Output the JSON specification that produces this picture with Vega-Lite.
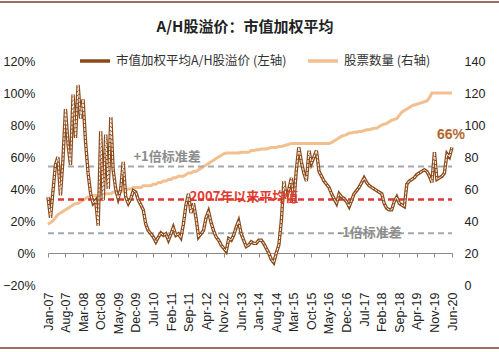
{
"$schema":"https://vega.github.io/schema/vega-lite/v6.json",
"width":404,"height":224,
"autosize":{"type":"none"},
"padding":{"left":48,"top":61,"right":47,"bottom":67},
"config":{"font":"Liberation Sans","view":{"stroke":null},"axis":{"labelFont":"Liberation Sans","labelColor":"#222","labelFontSize":12.5,"labelOverlap":false}},
"title":{"text":"A/H股溢价：市值加权平均","font":"Noto Sans CJK SC","fontSize":15,"fontWeight":"bold","color":"#222","frame":"group","anchor":"middle","dx":-5,"offset":-34},
"datasets":{
"main":[
{"d":"2007/01/01","p":0.35,"n":38},{"d":"2007/02/01","p":0.22,"n":39},{"d":"2007/03/01","p":0.38,"n":40},{"d":"2007/04/01","p":0.55,"n":42},{"d":"2007/05/01","p":0.60,"n":44},{"d":"2007/06/01","p":0.36,"n":45},{"d":"2007/07/01","p":0.58,"n":46},{"d":"2007/08/01","p":0.90,"n":47},{"d":"2007/09/01","p":0.68,"n":48},{"d":"2007/10/01","p":0.55,"n":49},{"d":"2007/11/01","p":0.99,"n":50},{"d":"2007/12/01","p":0.72,"n":51},
{"d":"2008/01/01","p":1.05,"n":51},{"d":"2008/02/01","p":0.84,"n":52},{"d":"2008/03/01","p":0.96,"n":53},{"d":"2008/04/01","p":0.69,"n":54},{"d":"2008/05/01","p":0.50,"n":55},{"d":"2008/06/01","p":0.37,"n":55},{"d":"2008/07/01","p":0.31,"n":56},{"d":"2008/08/01","p":0.33,"n":56},{"d":"2008/09/01","p":0.17,"n":56},{"d":"2008/10/01","p":0.76,"n":57},{"d":"2008/11/01","p":0.33,"n":57},{"d":"2008/12/01","p":0.74,"n":57},
{"d":"2009/01/01","p":0.40,"n":57},{"d":"2009/02/01","p":0.85,"n":57},{"d":"2009/03/01","p":0.52,"n":58},{"d":"2009/04/01","p":0.40,"n":58},{"d":"2009/05/01","p":0.34,"n":58},{"d":"2009/06/01","p":0.40,"n":58},{"d":"2009/07/01","p":0.57,"n":59},{"d":"2009/08/01","p":0.35,"n":59},{"d":"2009/09/01","p":0.31,"n":60},{"d":"2009/10/01","p":0.34,"n":60},{"d":"2009/11/01","p":0.39,"n":61},{"d":"2009/12/01","p":0.38,"n":61},
{"d":"2010/01/01","p":0.33,"n":61},{"d":"2010/02/01","p":0.30,"n":61},{"d":"2010/03/01","p":0.27,"n":62},{"d":"2010/04/01","p":0.18,"n":62},{"d":"2010/05/01","p":0.14,"n":62},{"d":"2010/06/01","p":0.12,"n":62},{"d":"2010/07/01","p":0.10,"n":63},{"d":"2010/08/01","p":0.07,"n":63},{"d":"2010/09/01","p":0.10,"n":64},{"d":"2010/10/01","p":0.125,"n":64},{"d":"2010/11/01","p":0.11,"n":65},{"d":"2010/12/01","p":0.12,"n":65},
{"d":"2011/01/01","p":0.08,"n":66},{"d":"2011/02/01","p":0.12,"n":66},{"d":"2011/03/01","p":0.16,"n":67},{"d":"2011/04/01","p":0.11,"n":67},{"d":"2011/05/01","p":0.12,"n":68},{"d":"2011/06/01","p":0.095,"n":68},{"d":"2011/07/01","p":0.18,"n":68},{"d":"2011/08/01","p":0.30,"n":69},{"d":"2011/09/01","p":0.37,"n":70},{"d":"2011/10/01","p":0.25,"n":70},{"d":"2011/11/01","p":0.31,"n":71},{"d":"2011/12/01","p":0.22,"n":71},
{"d":"2012/01/01","p":0.10,"n":72},{"d":"2012/02/01","p":0.12,"n":73},{"d":"2012/03/01","p":0.14,"n":74},{"d":"2012/04/01","p":0.22,"n":75},{"d":"2012/05/01","p":0.26,"n":76},{"d":"2012/06/01","p":0.19,"n":77},{"d":"2012/07/01","p":0.14,"n":78},{"d":"2012/08/01","p":0.10,"n":79},{"d":"2012/09/01","p":0.08,"n":80},{"d":"2012/10/01","p":0.05,"n":81},{"d":"2012/11/01","p":0.03,"n":82},{"d":"2012/12/01","p":0.01,"n":82.5},
{"d":"2013/01/01","p":0.09,"n":82.5},{"d":"2013/02/01","p":0.08,"n":82.5},{"d":"2013/03/01","p":0.11,"n":82.5},{"d":"2013/04/01","p":0.16,"n":82.5},{"d":"2013/05/01","p":0.20,"n":82.5},{"d":"2013/06/01","p":0.12,"n":83},{"d":"2013/07/01","p":0.08,"n":83},{"d":"2013/08/01","p":0.04,"n":83},{"d":"2013/09/01","p":0.05,"n":83},{"d":"2013/10/01","p":0.07,"n":84},{"d":"2013/11/01","p":0.06,"n":84},{"d":"2013/12/01","p":0.06,"n":84.5},
{"d":"2014/01/01","p":0.08,"n":84.5},{"d":"2014/02/01","p":0.08,"n":85},{"d":"2014/03/01","p":0.06,"n":85},{"d":"2014/04/01","p":0.03,"n":85},{"d":"2014/05/01","p":0.00,"n":85.5},{"d":"2014/06/01","p":-0.04,"n":86},{"d":"2014/07/01","p":-0.06,"n":86},{"d":"2014/08/01","p":0.00,"n":86},{"d":"2014/09/01","p":0.05,"n":86.5},{"d":"2014/10/01","p":0.20,"n":86.5},{"d":"2014/11/01","p":0.45,"n":87},{"d":"2014/12/01","p":0.34,"n":87.5},
{"d":"2015/01/01","p":0.40,"n":88},{"d":"2015/02/01","p":0.47,"n":88.5},{"d":"2015/03/01","p":0.31,"n":88.5},{"d":"2015/04/01","p":0.52,"n":88.5},{"d":"2015/05/01","p":0.66,"n":88.5},{"d":"2015/06/01","p":0.57,"n":88.5},{"d":"2015/07/01","p":0.50,"n":88.5},{"d":"2015/08/01","p":0.45,"n":88.5},{"d":"2015/09/01","p":0.64,"n":88.5},{"d":"2015/10/01","p":0.56,"n":88.5},{"d":"2015/11/01","p":0.60,"n":88.5},{"d":"2015/12/01","p":0.64,"n":88.5},
{"d":"2016/01/01","p":0.51,"n":88.5},{"d":"2016/02/01","p":0.48,"n":88.5},{"d":"2016/03/01","p":0.45,"n":88.5},{"d":"2016/04/01","p":0.43,"n":88.5},{"d":"2016/05/01","p":0.41,"n":88.5},{"d":"2016/06/01","p":0.37,"n":89},{"d":"2016/07/01","p":0.34,"n":90},{"d":"2016/08/01","p":0.31,"n":91},{"d":"2016/09/01","p":0.37,"n":92},{"d":"2016/10/01","p":0.35,"n":93},{"d":"2016/11/01","p":0.34,"n":93.5},{"d":"2016/12/01","p":0.32,"n":94},
{"d":"2017/01/01","p":0.29,"n":95},{"d":"2017/02/01","p":0.33,"n":95},{"d":"2017/03/01","p":0.37,"n":95.5},{"d":"2017/04/01","p":0.39,"n":95.5},{"d":"2017/05/01","p":0.41,"n":96},{"d":"2017/06/01","p":0.44,"n":96},{"d":"2017/07/01","p":0.47,"n":96.5},{"d":"2017/08/01","p":0.44,"n":97},{"d":"2017/09/01","p":0.42,"n":97},{"d":"2017/10/01","p":0.41,"n":97.5},{"d":"2017/11/01","p":0.40,"n":98},{"d":"2017/12/01","p":0.39,"n":98},
{"d":"2018/01/01","p":0.38,"n":99},{"d":"2018/02/01","p":0.37,"n":100},{"d":"2018/03/01","p":0.31,"n":100.5},{"d":"2018/04/01","p":0.28,"n":101},{"d":"2018/05/01","p":0.27,"n":102},{"d":"2018/06/01","p":0.27,"n":103},{"d":"2018/07/01","p":0.32,"n":103.5},{"d":"2018/08/01","p":0.35,"n":104},{"d":"2018/09/01","p":0.31,"n":106},{"d":"2018/10/01","p":0.30,"n":108},{"d":"2018/11/01","p":0.29,"n":109},{"d":"2018/12/01","p":0.43,"n":110},
{"d":"2019/01/01","p":0.45,"n":111},{"d":"2019/02/01","p":0.46,"n":112},{"d":"2019/03/01","p":0.47,"n":112.5},{"d":"2019/04/01","p":0.49,"n":113},{"d":"2019/05/01","p":0.50,"n":113.5},{"d":"2019/06/01","p":0.51,"n":114},{"d":"2019/07/01","p":0.52,"n":114.5},{"d":"2019/08/01","p":0.51,"n":115},{"d":"2019/09/01","p":0.48,"n":117},{"d":"2019/10/01","p":0.44,"n":120},{"d":"2019/11/01","p":0.63,"n":120},{"d":"2019/12/01","p":0.46,"n":120},
{"d":"2020/01/01","p":0.47,"n":120},{"d":"2020/02/01","p":0.48,"n":120},{"d":"2020/03/01","p":0.50,"n":120},{"d":"2020/04/01","p":0.62,"n":120},{"d":"2020/05/01","p":0.60,"n":120},{"d":"2020/06/01","p":0.66,"n":120}
],
"ref":[
{"p":0.54,"k":"sd"},{"p":0.335,"k":"mean"},{"p":0.123,"k":"sd"}
],
"ann":[
{"d":"2010/12/15","p":0.60,"t":"+1倍标准差","k":"gray"},
{"d":"2013/07/05","p":0.352,"t":"2007年以来平均值","k":"red"},
{"d":"2017/09/05","p":0.125,"t":"-1倍标准差","k":"gray"}
],
"last":[{"d":"2020/05/20","p":0.74,"t":"66%"}],
"border":[{"d":"2005/01/01","b":"2022/06/01","p":1.569},{"d":"2005/01/01","b":"2022/06/01","p":-0.594}]
},
"layer":[
{
"layer":[
{"data":{"name":"main"},
"mark":{"type":"line","strokeWidth":3,"interpolate":"linear"},
"encoding":{
"y":{"field":"n","type":"quantitative","scale":{"domain":[0,140],"nice":false,"zero":false},
"axis":{"title":null,"orient":"right","values":[0,20,40,60,80,100,120,140],"domain":false,"ticks":false,"grid":false,"labelPadding":12,"labelOverlap":false}},
"color":{"datum":"股票数量 (右轴)","type":"nominal","scale":{"domain":["市值加权平均A/H股溢价 (左轴)","股票数量 (右轴)"],"range":["#8B4A1A","#F2BF8E"]},
"legend":{"title":null,"orient":"none","legendX":30,"legendY":-17,"direction":"horizontal","symbolType":"stroke","symbolSize":900,"symbolStrokeWidth":3.5,"labelFont":"Noto Sans CJK SC","labelFontSize":12.5,"labelColor":"#333","labelOffset":4,"labelLimit":400,"columnPadding":14}}
}}
]
},
{
"encoding":{
"y":{"field":"p","type":"quantitative","scale":{"domain":[-0.2,1.2],"nice":false,"zero":false},
"axis":{"title":null,"orient":"left","values":[-0.2,0,0.2,0.4,0.6,0.8,1,1.2],"format":".0%","domain":false,"ticks":false,"grid":false,"labelPadding":13,"labelOverlap":false}}
},
"layer":[
{"data":{"name":"border"},"mark":{"type":"rule","color":"#7B3A30","strokeWidth":1.5},
"encoding":{"x2":{"field":"b"}}},
{"data":{"name":"ref"},"mark":{"type":"rule","strokeDash":[6,4]},
"encoding":{"x":{"value":0},"x2":{"value":404},
"stroke":{"field":"k","type":"nominal","scale":{"domain":["sd","mean"],"range":["#A5A9AD","#E03A2F"]},"legend":null},
"strokeWidth":{"field":"k","type":"nominal","scale":{"domain":["sd","mean"],"range":[2,2.5]},"legend":null}}},
{"data":{"name":"main"},"mark":{"type":"line","strokeWidth":3.4,"color":"#8B4A1A"},
"encoding":{"color":{"datum":"市值加权平均A/H股溢价 (左轴)","type":"nominal"}}},
{"data":{"name":"main"},"mark":{"type":"line","strokeWidth":1,"color":"#ffffff","strokeDash":[3,1]}},
{"data":{"name":"ann"},"mark":{"type":"text","font":"Noto Sans CJK SC","fontSize":13,"fontWeight":"bold","align":"center","baseline":"middle"},
"encoding":{"text":{"field":"t"},
"fill":{"field":"k","type":"nominal","scale":{"domain":["gray","red"],"range":["#8C8C8C","#E03A2F"]},"legend":null}}},
{"data":{"name":"last"},"mark":{"type":"text","fontSize":14,"fontWeight":"bold","color":"#B0672E","align":"center","baseline":"middle"},
"encoding":{"text":{"field":"t"}}}
]
}
],
"encoding":{
"x":{"field":"d","type":"temporal","scale":{"domain":[{"year":2007,"month":1,"date":1},{"year":2020,"month":6,"date":1}]},
"axis":{"title":null,"orient":"bottom","offset":-32,"format":"%b-%y","labelAngle":-90,"labelAlign":"right","labelBaseline":"middle","labelPadding":35,"tickSize":4,"tickColor":"#8a8a8a","domainColor":"#8a8a8a","grid":false,"labelFontSize":12.5,"labelOverlap":false,
"values":[{"year":2007,"month":1,"date":1},{"year":2007,"month":8,"date":1},{"year":2008,"month":3,"date":1},{"year":2008,"month":10,"date":1},{"year":2009,"month":5,"date":1},{"year":2009,"month":12,"date":1},{"year":2010,"month":7,"date":1},{"year":2011,"month":2,"date":1},{"year":2011,"month":9,"date":1},{"year":2012,"month":4,"date":1},{"year":2012,"month":11,"date":1},{"year":2013,"month":6,"date":1},{"year":2014,"month":1,"date":1},{"year":2014,"month":8,"date":1},{"year":2015,"month":3,"date":1},{"year":2015,"month":10,"date":1},{"year":2016,"month":5,"date":1},{"year":2016,"month":12,"date":1},{"year":2017,"month":7,"date":1},{"year":2018,"month":2,"date":1},{"year":2018,"month":9,"date":1},{"year":2019,"month":4,"date":1},{"year":2019,"month":11,"date":1},{"year":2020,"month":6,"date":1}]}}
},
"resolve":{"scale":{"y":"independent"}}
}
